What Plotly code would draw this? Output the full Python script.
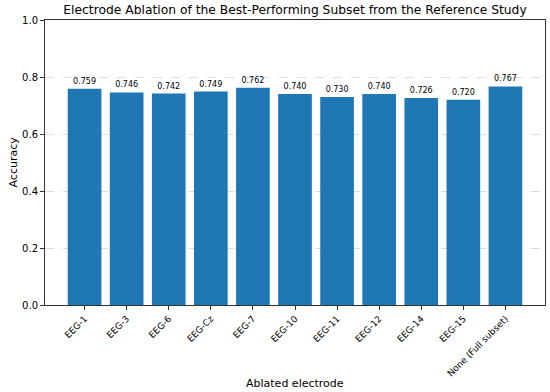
import plotly.graph_objects as go

electrodes = ["EEG-1", "EEG-3", "EEG-6", "EEG-Cz", "EEG-7", "EEG-10", "EEG-11",
              "EEG-12", "EEG-14", "EEG-15", "None (Full subset)"]
accuracy = [0.759, 0.746, 0.742, 0.749, 0.762, 0.740, 0.730, 0.740, 0.726, 0.720, 0.767]
y_ticks = [0.0, 0.2, 0.4, 0.6, 0.8, 1.0]

font = "DejaVu Sans"

fig = go.Figure(go.Bar(
    x=electrodes, y=accuracy,
    marker=dict(color="#1f77b4", line=dict(width=0)),
    text=[f"{v:.3f}" for v in accuracy],
    textposition="outside",
    textfont=dict(size=8, color="black", family=font),
    cliponaxis=False,
    width=0.8,
))

fig.update_layout(
    width=550, height=392,
    margin=dict(l=45, r=5, t=20, b=87, autoexpand=False),
    paper_bgcolor="white", plot_bgcolor="white",
    font=dict(family=font, color="black"),
    title=dict(text="Electrode Ablation of the Best-Performing Subset from the Reference Study",
               x=0.5, xanchor="center", xref="paper", y=0.975, yref="container", yanchor="middle",
               font=dict(size=12.3, family=font, color="black")),
    showlegend=False,
    bargap=0.2,
    annotations=[
        dict(text="Ablated electrode", x=0.5, xref="paper", y=-0.274, yref="paper",
             yanchor="middle", xanchor="center", showarrow=False,
             font=dict(size=11, family=font, color="black")),
        dict(text="Accuracy", x=-0.064, xref="paper", y=0.5, yref="paper",
             xanchor="center", yanchor="middle", textangle=-90, showarrow=False,
             font=dict(size=11, family=font, color="black")),
    ],
)
fig.update_xaxes(
    range=[-0.94, 10.94], tickangle=-45, tickfont=dict(size=9, family=font),
    ticks="outside", ticklen=4, tickcolor="#333", showline=True, mirror=True,
    linecolor="#333", linewidth=1, showgrid=False, automargin=False,
)
fig.update_yaxes(
    range=[0, 1.0], tickvals=y_ticks, ticktext=[f"{v:.1f}" for v in y_ticks],
    tickfont=dict(size=10, family=font),
    ticks="outside", ticklen=4, tickcolor="#333", showline=True, mirror=True,
    linecolor="#333", linewidth=1, automargin=False,
    showgrid=True, gridcolor="#dddddd", griddash="dash", gridwidth=0.8,
    zeroline=False,
)

fig.write_html("out.html", config={"displayModeBar": False},
               post_script="document.body.style.margin='0';document.body.style.overflow='hidden';")
